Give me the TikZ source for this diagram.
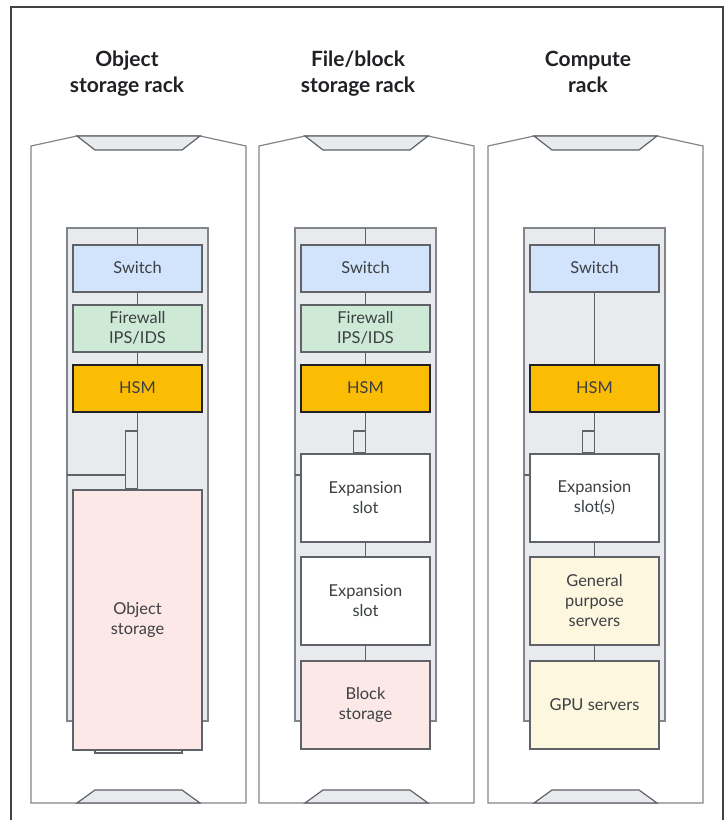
\documentclass[tikz,border=0pt]{standalone}
\usepackage{fontspec}
\setmainfont{Lato}
\usetikzlibrary{positioning}

\definecolor{switchblue}{HTML}{D2E3FC}
\definecolor{fwgreen}{HTML}{CEEAD6}
\definecolor{hsmyellow}{HTML}{FBBC04}
\definecolor{storepink}{HTML}{FCE8E6}
\definecolor{servercream}{HTML}{FEF7E0}
\definecolor{panelgray}{HTML}{E8EAED}
\definecolor{edgegray}{HTML}{5F6368}
\definecolor{rackgray}{HTML}{80868B}
\definecolor{textgray}{HTML}{3C4043}
\definecolor{titlegray}{HTML}{202124}

\newcommand{\boxfont}{\fontsize{8.2}{10}\selectfont}
\newcommand{\titlefont}{\fontsize{10.5}{13}\selectfont\bfseries}

\tikzset{
  frame/.style={line width=1pt, draw=titlegray!85},
  cabinet/.style={line width=0.6pt, draw=rackgray, fill=white},
  trap/.style={line width=0.6pt, draw=edgegray, fill=panelgray},
  panel/.style={line width=0.7pt, draw=rackgray, fill=panelgray},
  wire/.style={line width=0.7pt, draw=edgegray},
  unit/.style={draw=edgegray, line width=1pt, minimum width=64.5pt,
    minimum height=23.5pt, inner sep=0pt, align=center,
    font=\boxfont, text=textgray},
  tallunit/.style={unit, minimum height=44pt},
  racktitle/.style={align=center, font=\titlefont, text=titlegray}
}

\begin{document}
\begin{tikzpicture}[x=0.5pt,y=-0.5pt]

\useasboundingbox (0,0) rectangle (726,820);

% Outer frame
\draw[frame] (11,820) -- (11,7) -- (723,7) -- (723,820);

% Titles
\node[racktitle] (t1) at (127,74) {Object\\storage rack};
\node[racktitle] (t2) at (358,74) {File/block\\storage rack};
\node[racktitle] (t3) at (588,72) {Compute\\rack};

% Cabinets, inner panels and connectors
\foreach \rx/\tp in {31/489, 259/453, 488/453} {
  \begin{scope}[shift={(\rx,0)}]
    \draw[cabinet] (0,803) -- (0,146) -- (46,136) -- (169,136) -- (215,146) -- (215,803) -- cycle;
    \filldraw[trap] (46,136) -- (169,136) -- (151,150) -- (64,150) -- cycle;
    \filldraw[trap] (46,803) -- (64,790) -- (151,790) -- (169,803) -- cycle;
    \filldraw[panel] (36,228) rectangle (177,721);
    \draw[wire] (94.5,431) rectangle (106.5,\tp);
    \draw[wire] (36,475) -- (94.5,475);
  \end{scope}
}

% --- Object storage rack ---
\begin{scope}[shift={(31,0)}]
  \coordinate (top1) at (106.5,228);
  \filldraw[wire, fill=white] (64,749) rectangle (151,753);
  \node[unit, fill=switchblue] (sw1) at (106.5,268) {Switch};
  \node[unit, fill=fwgreen] (fw1) at (106.5,328) {Firewall\\IPS/IDS};
  \node[unit, fill=hsmyellow, draw=titlegray] (hsm1) at (106.5,388) {HSM};
  \node[unit, fill=storepink, minimum height=130pt] (obj1) at (106.5,619.5) {Object\\storage};
  \draw[wire] (top1) -- (sw1);
  \draw[wire] (sw1) -- (fw1);
  \draw[wire] (fw1) -- (hsm1);
  \draw[wire] (hsm1) -- (obj1);
\end{scope}

% --- File/block storage rack ---
\begin{scope}[shift={(259,0)}]
  \coordinate (top2) at (106.5,228);
  \node[unit, fill=switchblue] (sw2) at (106.5,268) {Switch};
  \node[unit, fill=fwgreen] (fw2) at (106.5,328) {Firewall\\IPS/IDS};
  \node[unit, fill=hsmyellow, draw=titlegray] (hsm2) at (106.5,388) {HSM};
  \node[tallunit, fill=white] (exa2) at (106.5,497.5) {Expansion\\slot};
  \node[tallunit, fill=white] (exb2) at (106.5,600.5) {Expansion\\slot};
  \node[tallunit, fill=storepink] (blk2) at (106.5,705) {Block\\storage};
  \draw[wire] (top2) -- (sw2);
  \draw[wire] (sw2) -- (fw2);
  \draw[wire] (fw2) -- (hsm2);
  \draw[wire] (hsm2) -- (exa2);
  \draw[wire] (exa2) -- (exb2);
  \draw[wire] (exb2) -- (blk2);
\end{scope}

% --- Compute rack ---
\begin{scope}[shift={(488,0)}]
  \coordinate (top3) at (106.5,228);
  \node[unit, fill=switchblue] (sw3) at (106.5,268) {Switch};
  \node[unit, fill=hsmyellow, draw=titlegray] (hsm3) at (106.5,388) {HSM};
  \node[tallunit, fill=white] (exa3) at (106.5,497.5) {Expansion\\slot(s)};
  \node[tallunit, fill=servercream] (gp3) at (106.5,600.5) {General\\purpose\\servers};
  \node[tallunit, fill=servercream] (gpu3) at (106.5,705) {GPU servers};
  \draw[wire] (top3) -- (sw3);
  \draw[wire] (sw3) -- (hsm3);
  \draw[wire] (hsm3) -- (exa3);
  \draw[wire] (exa3) -- (gp3);
  \draw[wire] (gp3) -- (gpu3);
\end{scope}

\end{tikzpicture}
\end{document}
